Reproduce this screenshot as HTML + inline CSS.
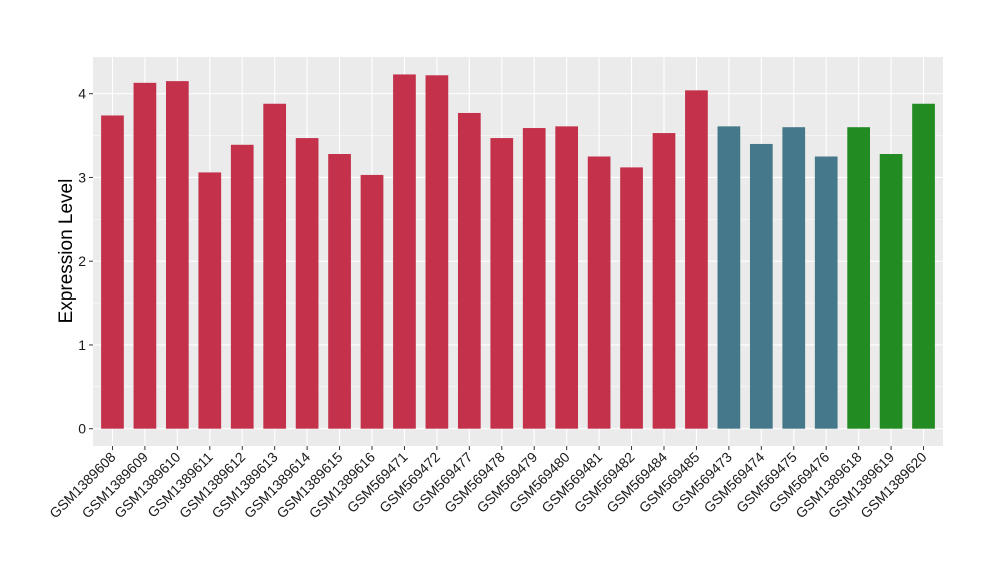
<!DOCTYPE html>
<html><head><meta charset="utf-8"><style>
body{margin:0;background:#fff;font-family:"Liberation Sans",Arial,sans-serif;}
</style></head><body>
<svg id="chart" width="1000" height="580" xmlns="http://www.w3.org/2000/svg" font-family="Liberation Sans, Arial, sans-serif">
<rect x="93" y="57" width="850" height="389" fill="#EBEBEB"/>
<g id="grid"></g><g id="bars"></g><g id="axes"></g>
<text transform="translate(72,251) rotate(-90)" text-anchor="middle" font-size="19" fill="#000">Expression Level</text>
</svg>
<script>
const categories=["GSM1389608","GSM1389609","GSM1389610","GSM1389611","GSM1389612","GSM1389613","GSM1389614","GSM1389615","GSM1389616","GSM569471","GSM569472","GSM569477","GSM569478","GSM569479","GSM569480","GSM569481","GSM569482","GSM569484","GSM569485","GSM569473","GSM569474","GSM569475","GSM569476","GSM1389618","GSM1389619","GSM1389620"];
const values=[3.74,4.13,4.15,3.06,3.39,3.88,3.47,3.28,3.03,4.23,4.22,3.77,3.47,3.59,3.61,3.25,3.12,3.53,4.04,3.61,3.40,3.60,3.25,3.60,3.28,3.88];
const groups=[0,0,0,0,0,0,0,0,0,0,0,0,0,0,0,0,0,0,0,1,1,1,1,2,2,2];
const groupColors=["#C3314A","#44788A","#228B22"];
const yTicks=[0,1,2,3,4];
const NS="http://www.w3.org/2000/svg";
const L=93,R=943,T=57,B=446,y0=428.7,unit=83.75;
const step=(R-L)/(categories.length-1+1.2);
const x=i=>L+0.6*step+i*step;
const y=v=>y0-v*unit;
function mk(tag,attrs,parent){const e=document.createElementNS(NS,tag);for(const k in attrs)e.setAttribute(k,attrs[k]);parent.appendChild(e);return e;}
const grid=document.getElementById('grid'),bars=document.getElementById('bars'),axes=document.getElementById('axes');
for(let v=-0.5;v<=4.6;v+=0.5){const yy=y(v);if(yy<T||yy>B)continue;const major=Math.abs(v-Math.round(v))<1e-6;
const g=mk('line',{x1:L,x2:R,y1:yy,y2:yy,stroke:'#fff','stroke-width':major?1.1:0.5},grid);

}
categories.forEach((c,i)=>{const g=mk('line',{x1:x(i),x2:x(i),y1:T,y2:B,stroke:'#fff','stroke-width':1.1},grid);

});
const bw=step*0.7;
values.forEach((v,i)=>{const r=mk('rect',{x:x(i)-bw/2,y:y(v),width:bw,height:y(0)-y(v),fill:groupColors[groups[i]]},bars);


const t=mk('line',{x1:x(i),x2:x(i),y1:B,y2:B+4,stroke:'#333','stroke-width':1},axes);


const lb=mk('text',{transform:`translate(${x(i)+4},${B+12}) rotate(-45)`,'text-anchor':'end','font-size':14,fill:'#1a1a1a'},axes);
lb.textContent=categories[i];

});
yTicks.forEach(v=>{const t=mk('line',{x1:L-4,x2:L,y1:y(v),y2:y(v),stroke:'#333','stroke-width':1},axes);


const lb=mk('text',{x:L-7,y:y(v)+5,'text-anchor':'end','font-size':14,fill:'#1a1a1a'},axes);
lb.textContent=v;

});
</script>
</body></html>
